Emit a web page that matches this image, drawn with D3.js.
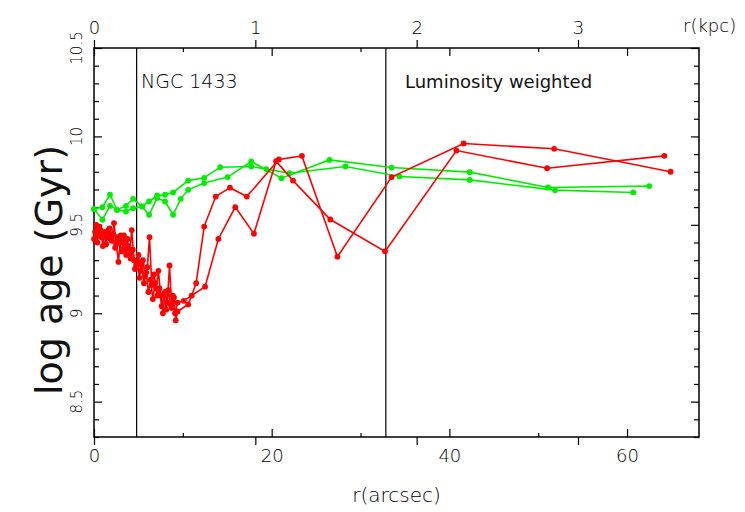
<!DOCTYPE html>
<html>
<head>
<meta charset="utf-8">
<script src="https://cdnjs.cloudflare.com/ajax/libs/d3/7.8.5/d3.min.js"></script>
<style>
  body { margin: 0; background: #fff; }
  text { font-family: 'DejaVu Sans', sans-serif; fill: #111; }
  .thin { font-weight: 200; fill: #000; }
</style>
</head>
<body>
<svg id="chart" width="745" height="512"></svg>
<script>
// profiles: [r (arcsec), log age]
var red1 = [[0.0,9.42],[0.25,9.50],[0.5,9.44],[0.75,9.47],[1.0,9.38],[1.25,9.46],[1.5,9.43],[1.75,9.48],
  [2.0,9.41],[2.25,9.51],[2.5,9.39],[2.75,9.29],[3.0,9.44],[3.25,9.40],[3.5,9.36],[3.75,9.42],
  [4.0,9.33],[4.25,9.47],[4.5,9.30],[4.75,9.27],[5.0,9.33],[5.25,9.24],[5.5,9.30],[5.75,9.21],
  [6.0,9.26],[6.25,9.43],[6.5,9.16],[6.75,9.22],[7.0,9.14],[7.25,9.24],[7.5,9.10],[7.75,9.00],
  [8.0,9.12],[8.25,9.06],[8.5,9.27],[8.75,9.03],[9.0,9.09],[9.2,8.96],[9.4,9.01],[10.6,9.05],
  [11.0,9.10],[11.5,9.17],[12.4,9.49],[13.7,9.66],[15.3,9.71],[17.2,9.66],[20.8,9.87],[23.4,9.89],
  [27.4,9.32],[33.5,9.77],[41.6,9.96],[51.8,9.93],[64.9,9.80]];
var red2 = [[0.12,9.46],[0.37,9.40],[0.62,9.49],[0.87,9.43],[1.12,9.45],[1.37,9.39],[1.62,9.47],[1.87,9.42],
  [2.12,9.45],[2.37,9.37],[2.62,9.43],[2.87,9.40],[3.12,9.35],[3.37,9.44],[3.62,9.33],[3.87,9.38],
  [4.12,9.31],[4.37,9.36],[4.62,9.25],[4.87,9.29],[5.12,9.20],[5.37,9.28],[5.62,9.17],[5.87,9.23],
  [6.12,9.12],[6.37,9.19],[6.62,9.08],[6.87,9.17],[7.12,9.10],[7.37,9.14],[7.62,9.04],[7.87,9.11],
  [8.12,9.02],[8.37,9.13],[8.62,9.05],[8.87,9.10],[9.12,9.00],[9.4,9.06],[10.1,9.07],[12.5,9.15],
  [14.0,9.42],[15.9,9.60],[18.0,9.45],[20.5,9.86],[22.4,9.75],[26.6,9.53],[32.76,9.35],[40.8,9.92],
  [51.0,9.82],[64.2,9.89]];
var green1 = [[0,9.589],[0.94,9.528],[1.8,9.607],[2.6,9.585],[3.6,9.575],[4.4,9.594],[5.4,9.604],
  [6.2,9.557],[7.1,9.651],[8.0,9.632],[8.9,9.557],[9.76,9.647],[10.6,9.698],[12.4,9.736],[15.05,9.77],
  [17.7,9.858],[21.1,9.764],[26.5,9.867],[33.5,9.824],[42.3,9.798],[51.1,9.711],[62.5,9.719]];
var green2 = [[0,9.589],[0.94,9.6],[1.8,9.67],[2.6,9.585],[3.6,9.607],[4.4,9.647],[5.4,9.604],
  [6.2,9.632],[7.1,9.666],[8.0,9.67],[8.9,9.683],[10.6,9.75],[12.4,9.766],[14.2,9.826],[17.7,9.83],
  [19.4,9.815],[22.0,9.792],[28.3,9.83],[34.4,9.773],[42.3,9.754],[51.9,9.696],[60.7,9.683]];

var arcsecMajor = [0, 20, 40, 60];
var arcsecMinor = [10, 30, 50];
var kpcTicks = [0, 1, 2, 3];
var ageMajor = [8.5, 9, 9.5, 10, 10.5];
var ageMinor = [8.3, 8.4, 8.6, 8.7, 8.8, 8.9, 9.1, 9.2, 9.3, 9.4, 9.6, 9.7, 9.8, 9.9, 10.1, 10.2, 10.3, 10.4];
var markers = [4.8, 32.85];
var arcsecPerKpc = 18.16;

var pl = 94, pr = 699, pt = 48, pb = 437;
var svg = d3.select("#chart");

var x = d3.scaleLinear().domain([0, 68.1]).range([pl, pr]);
var kx = d3.scaleLinear().domain([0, 68.1 / arcsecPerKpc]).range([pl, pr]);
var y = d3.scaleLinear().domain([8.3, 10.5]).range([pb, pt]);

function strip(g) {
  g.select(".domain").remove();
  g.selectAll(".tick line").attr("stroke", "#000").attr("stroke-width", 1.2);
}

// bottom: arcsec ticks inward, kpc ticks outward
svg.append("g").attr("transform", "translate(0," + pb + ")")
  .call(d3.axisTop(x).tickValues(arcsecMajor).tickSize(8).tickFormat("")).call(strip);
svg.append("g").attr("transform", "translate(0," + pb + ")")
  .call(d3.axisTop(x).tickValues(arcsecMinor).tickSize(4).tickFormat("")).call(strip);
svg.append("g").attr("transform", "translate(0," + pb + ")")
  .call(d3.axisBottom(kx).tickValues(kpcTicks).tickSize(8).tickFormat("")).call(strip);
var bl = svg.append("g").attr("transform", "translate(0," + pb + ")")
  .call(d3.axisBottom(x).tickValues(arcsecMajor).tickSize(0).tickPadding(12).tickFormat(d3.format("d")));
bl.select(".domain").remove();
bl.selectAll("text").attr("font-size", 18).attr("font-family", "DejaVu Sans").attr("fill", "#000").attr("class", "thin");

// top: arcsec ticks inward, kpc ticks outward with labels
svg.append("g").attr("transform", "translate(0," + pt + ")")
  .call(d3.axisBottom(x).tickValues(arcsecMajor).tickSize(8).tickFormat("")).call(strip);
svg.append("g").attr("transform", "translate(0," + pt + ")")
  .call(d3.axisBottom(x).tickValues(arcsecMinor).tickSize(4).tickFormat("")).call(strip);
var tk = svg.append("g").attr("transform", "translate(0," + pt + ")")
  .call(d3.axisTop(kx).tickValues(kpcTicks).tickSize(8).tickPadding(6).tickFormat(d3.format("d")));
strip(tk);
tk.selectAll("text").attr("font-size", 18).attr("font-family", "DejaVu Sans").attr("fill", "#000").attr("class", "thin");

// left and right: ticks inward
svg.append("g").attr("transform", "translate(" + pl + ",0)")
  .call(d3.axisRight(y).tickValues(ageMajor).tickSize(8).tickFormat("")).call(strip);
svg.append("g").attr("transform", "translate(" + pl + ",0)")
  .call(d3.axisRight(y).tickValues(ageMinor).tickSize(5).tickFormat("")).call(strip);
svg.append("g").attr("transform", "translate(" + pr + ",0)")
  .call(d3.axisLeft(y).tickValues(ageMajor).tickSize(8).tickFormat("")).call(strip);
svg.append("g").attr("transform", "translate(" + pr + ",0)")
  .call(d3.axisLeft(y).tickValues(ageMinor).tickSize(5).tickFormat("")).call(strip);

svg.append("g").selectAll("text").data(ageMajor).enter().append("text")
  .attr("class", "thin")
  .attr("transform", function (d) { return "translate(" + 82 + "," + y(d) + ") rotate(-90)"; })
  .attr("text-anchor", "middle")
  .attr("font-size", 15)
  .text(function (d) { return d; });

// frame
svg.append("rect").attr("x", pl).attr("y", pt)
  .attr("width", pr - pl).attr("height", pb - pt)
  .attr("fill", "none").attr("stroke", "#000").attr("stroke-width", 1.5);

// vertical marker lines
svg.append("g").selectAll("line").data(markers).enter().append("line")
  .attr("x1", function (d) { return x(d); }).attr("x2", function (d) { return x(d); })
  .attr("y1", pt).attr("y2", pb)
  .attr("stroke", "#000").attr("stroke-width", 1.2);

var line = d3.line().x(function (d) { return x(d[0]); }).y(function (d) { return y(d[1]); });

function drawSeries(data, color) {
  svg.append("path").datum(data)
    .attr("d", line).attr("fill", "none")
    .attr("stroke", color).attr("stroke-width", 1.6);
  svg.append("g").selectAll("circle").data(data).enter().append("circle")
    .attr("cx", function (d) { return x(d[0]); })
    .attr("cy", function (d) { return y(d[1]); })
    .attr("r", 2.9).attr("fill", color);
}
drawSeries(green1, "#00ee00");
drawSeries(green2, "#00ee00");
drawSeries(red1, "#ff0000");
drawSeries(red2, "#ff0000");

// labels
svg.append("text").attr("class", "thin").attr("x", 141).attr("y", 88).attr("font-size", 19).text("NGC 1433");
svg.append("text").attr("x", 405).attr("y", 88).attr("font-size", 18).attr("fill", "#000").text("Luminosity weighted");
svg.append("text").attr("class", "thin").attr("x", 683).attr("y", 32).attr("font-size", 18).text("r(kpc)");
svg.append("text").attr("class", "thin").attr("x", (pl + pr) / 2).attr("y", 502).attr("text-anchor", "middle")
  .attr("font-size", 20).text("r(arcsec)");
svg.append("text")
  .attr("transform", "translate(62," + 270 + ") rotate(-90)")
  .attr("text-anchor", "middle")
  .attr("font-family", "Noto Sans, sans-serif")
  .attr("font-size", 38).attr("fill", "#000")
  .text("log age (Gyr)");
</script>
</body>
</html>
